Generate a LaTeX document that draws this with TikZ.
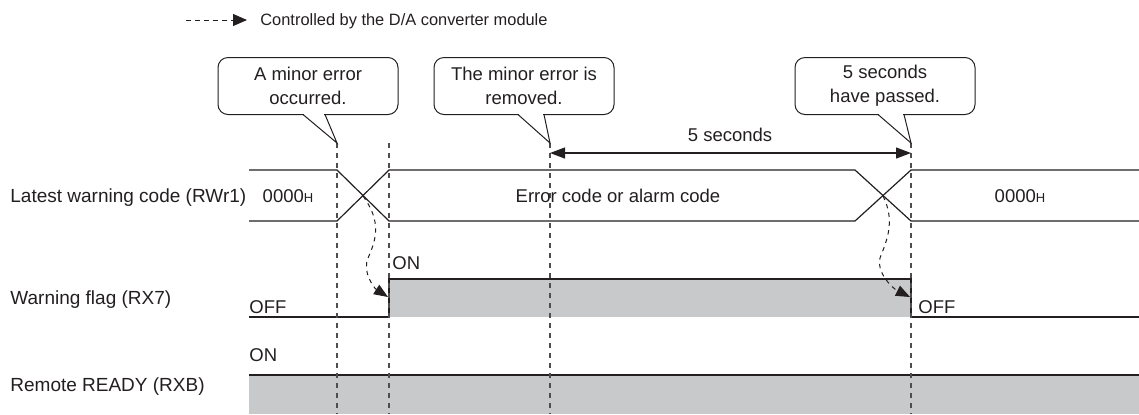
\documentclass[tikz,border=0pt]{standalone}
\usepackage{fontspec}
\setmainfont{Liberation Sans}
\usetikzlibrary{arrows.meta}
\definecolor{wgray}{HTML}{C8C9CB}
\definecolor{ink}{HTML}{231F20}
\newcommand\hsub{{\fontsize{6.5}{7}\selectfont H}}
\begin{document}
\begin{tikzpicture}[x=0.5pt,y=-0.5pt,
  txt/.style={font=\fontsize{9.25}{12}\selectfont, inner sep=0pt, text=ink},
  bubble/.style={draw=ink, line width=0.5pt, rounded corners=5pt, minimum width=90pt, minimum height=28.5pt, align=center, font=\fontsize{9.25}{12}\selectfont, inner sep=0pt, text=ink},
  sig/.style={draw=ink, line width=0.6pt},
  guide/.style={draw=ink!80, line width=0.8pt, dash pattern=on 2.5pt off 2.5pt},
  ctl/.style={draw=ink, line width=0.5pt, dash pattern=on 2.2pt off 2.2pt, -{Triangle[length=7pt,width=5.5pt]}},
  ptr/.style={draw=ink, line width=0.5pt},
]
\useasboundingbox (0,0) rectangle (1139,414);

% legend
\coordinate (lg0) at (186,20);
\coordinate (lg1) at (247,20);
\draw[ink, line width=0.5pt, dash pattern=on 2.5pt off 2pt, -{Triangle[length=7pt,width=6pt]}] (lg0) -- (lg1);
\node[txt, anchor=base west, font=\fontsize{8.2}{10}\selectfont] (lgt) at (260,25.5) {Controlled by the D/A converter module};

% signal drawings
\fill[wgray] (389,279) rectangle (911,317);
\fill[wgray] (249,375) rectangle (1139,414);
\draw[sig] (249,170) -- (337,170) -- (389,221) -- (855,221) -- (911,170) -- (1139,170);
\draw[sig] (249,221) -- (337,221) -- (389,170) -- (855,170) -- (911,221) -- (1139,221);
\draw[sig] (249,317) -- (389,317) -- (389,279) -- (911,279) -- (911,317) -- (1139,317);
\draw[sig] (249,375) -- (1139,375);

% guide lines
\coordinate (t1) at (337,143); \coordinate (e1) at (337,414);
\coordinate (t2) at (389,143); \coordinate (e2) at (389,414);
\coordinate (t3) at (550,143); \coordinate (e3) at (550,414);
\coordinate (t4) at (911,143); \coordinate (e4) at (911,414);
\draw[guide] (t1) -- (e1);
\draw[guide] (t2) -- (e2);
\draw[guide] (t3) -- (e3);
\draw[guide] (t4) -- (e4);

% bubbles
\node[bubble] (b1) at (308,86) {A minor error\\occurred.};
\fill[white] (304,113) rectangle (324,116.5);
\draw[ptr] (303,114.5) -- (t1) -- (325,114.5);

\node[bubble] (b2) at (524,86) {The minor error is\\removed.};
\fill[white] (519,113) rectangle (543,116.5);
\draw[ptr] (518,114.5) -- (t3) -- (544,114.5);

\node[bubble] (b3) at (885,86) {5 seconds\\have passed.};
\fill[white] (879,113) rectangle (903,116.5);
\draw[ptr] (878,114.5) -- (t4) -- (904,114.5);

% 5 seconds dimension
\coordinate (d0) at (550,153);
\coordinate (d1) at (911,153);
\draw[ink, line width=0.6pt, {Triangle[length=7.5pt,width=5.5pt]}-{Triangle[length=7.5pt,width=5.5pt]}] (d0) -- (d1);
\node[txt, anchor=base] (fs) at (730,141.6) {5 seconds};

% row labels
\node[txt, anchor=base west, font=\fontsize{9.5}{12}\selectfont] (l1) at (10,202.6) {Latest warning code (RWr1)};
\node[txt, anchor=base west, font=\fontsize{9.5}{12}\selectfont] (l2) at (10,304) {Warning flag (RX7)};
\node[txt, anchor=base west, font=\fontsize{9.5}{12}\selectfont] (l3) at (10,391) {Remote READY (RXB)};

% values
\node[txt, anchor=base] (v1) at (288,202.6) {0000\hsub};
\node[txt, anchor=base] (v2) at (618,202.6) {Error code or alarm code};
\node[txt, anchor=base] (v3) at (1020,202.6) {0000\hsub};
\node[txt, anchor=base west] (on1) at (392,269.6) {ON};
\node[txt, anchor=base west] (off1) at (249,313) {OFF};
\node[txt, anchor=base west] (off2) at (918,313) {OFF};
\node[txt, anchor=base west] (on2) at (249,361.6) {ON};

% controlled transitions
\coordinate (x1) at (363,196);
\coordinate (r1) at (388,297);
\coordinate (x2) at (883,196);
\coordinate (r2) at (910,297);
\draw[ctl] (x1) .. controls (382,222) and (376,240) .. (368,258) .. controls (362,272) and (374,288) .. (r1);
\draw[ctl] (x2) .. controls (896,222) and (886,242) .. (880,258) .. controls (876,272) and (892,288) .. (r2);
\end{tikzpicture}
\end{document}
